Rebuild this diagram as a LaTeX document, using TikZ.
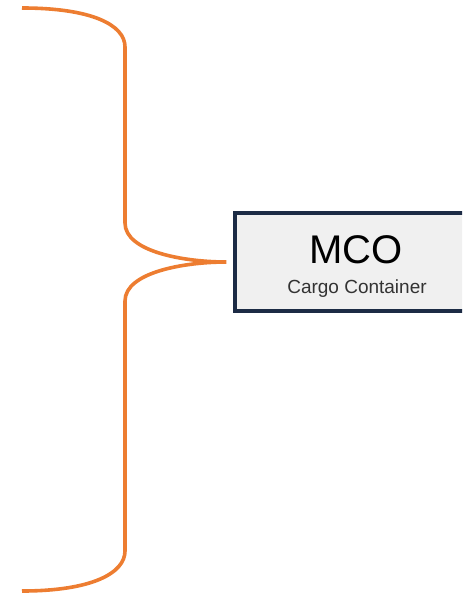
\documentclass[tikz,border=0pt]{standalone}
\usepackage{fontspec}
\setmainfont{Liberation Sans}
\usetikzlibrary{positioning}
\usetikzlibrary{calc}
\definecolor{braceorange}{HTML}{ED7D31}
\definecolor{boxnavy}{HTML}{1C2B45}
\definecolor{boxgray}{HTML}{F0F0F0}
\definecolor{subgray}{HTML}{333333}
\tikzstyle{container} = [rectangle, minimum width=122.5pt, minimum height=49pt, inner sep=0pt, draw=boxnavy, line width=1.7pt, fill=boxgray]
\tikzstyle{brace} = [line width=1.8pt, draw=braceorange, line cap=butt]

\begin{document}
\begin{tikzpicture}[x=0.5pt, y=-0.5pt]

        \clip (0,0) rectangle (462,593);
        \useasboundingbox (0,0) rectangle (462,593);

        \node (mco) [container] at (357.5,262) {};
        \node (title) at (356,250) {\fontsize{20}{20}\selectfont MCO};
        \node (sub) at (357,289) {\fontsize{9.5}{9.5}\selectfont\color{subgray} Cargo Container};

        \coordinate (tip) at ($(mco.west)+(-7,0)$);

        \draw [brace] (22,8) .. controls (92,8) and (125,25) .. (125,47)
            -- (125,223) .. controls (125,252) and (185,262) .. (tip)
            .. controls (185,262) and (125,272) .. (125,301)
            -- (125,551) .. controls (125,573) and (92,591) .. (22,591);

\end{tikzpicture}
\end{document}
